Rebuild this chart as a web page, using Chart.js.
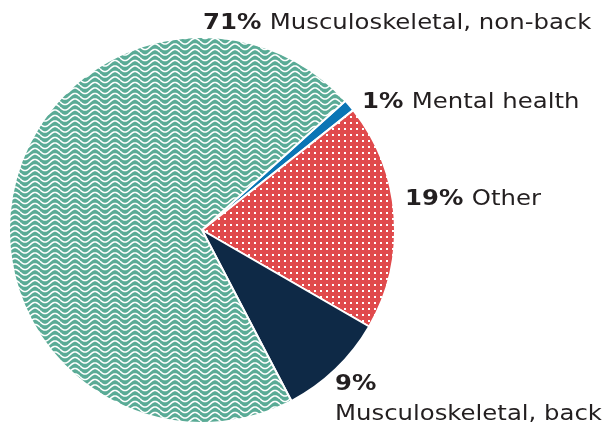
<!DOCTYPE html>
<html lang="en">
<head>
    <meta charset="UTF-8">
    <title>Injury types</title>
    <script src="https://cdn.jsdelivr.net/npm/chart.js"></script>
    <style>
        body {
            margin: 0;
            background: #fff;
        }
        .wrap {
            position: relative;
            width: 614px;
            height: 425px;
        }
    </style>
</head>
<body>
    <div class="wrap">
        <canvas id="pieChart" width="614" height="425"></canvas>
    </div>

    <script>
        // data
        const categories = ['Mental health', 'Other', 'Musculoskeletal, back', 'Musculoskeletal, non-back'];
        const shares = [1, 19, 9, 71];
        const pctLabels = ['1%', '19%', '9%', '71%'];

        // label placement: [x, baseline y] and whether the name goes on its own line
        const labelSpots = [
            { x: 362, y: 108, wrap: false },
            { x: 405, y: 205, wrap: false },
            { x: 335, y: 390, wrap: true },
            { x: 203, y: 29, wrap: false }
        ];
        const stretch = 1.16; // the original typeface is wider than DejaVu

        function wavePattern() {
            const c = document.createElement('canvas');
            c.width = 20;
            c.height = 11;
            const g = c.getContext('2d');
            g.fillStyle = '#5aab96';
            g.fillRect(0, 0, c.width, c.height);
            g.strokeStyle = '#ffffff';
            g.lineWidth = 1.6;
            for (let off = -11; off <= 22; off += 5.5) {
                g.beginPath();
                for (let x = 0; x <= c.width; x += 0.5) {
                    const y = off + 2.75 + 2.8 * Math.sin(x / c.width * Math.PI * 2);
                    if (x === 0) g.moveTo(x, y); else g.lineTo(x, y);
                }
                g.stroke();
            }
            return g.createPattern(c, 'repeat');
        }

        function dotPattern() {
            const c = document.createElement('canvas');
            c.width = 6;
            c.height = 6;
            const g = c.getContext('2d');
            g.fillStyle = '#e04a4c';
            g.fillRect(0, 0, 6, 6);
            g.fillStyle = '#ffffff';
            g.fillRect(2, 2, 2, 2);
            return g.createPattern(c, 'repeat');
        }

        const sliceLabels = {
            id: 'sliceLabels',
            afterDraw(chart) {
                const ctx = chart.ctx;
                labelSpots.forEach((spot, i) => {
                    ctx.save();
                    ctx.translate(spot.x, spot.y);
                    ctx.scale(stretch, 1);
                    ctx.fillStyle = '#231f20';
                    ctx.textBaseline = 'alphabetic';
                    ctx.textAlign = 'left';
                    ctx.font = 'bold 21px "DejaVu Sans", sans-serif';
                    ctx.fillText(pctLabels[i], 0, 0);
                    const w = ctx.measureText(pctLabels[i] + ' ').width;
                    ctx.font = '21px "DejaVu Sans", sans-serif';
                    if (spot.wrap) {
                        ctx.fillText(categories[i], 0, 30);
                    } else {
                        ctx.fillText(categories[i], w, 0);
                    }
                    ctx.restore();
                });
            }
        };

        new Chart(document.getElementById('pieChart'), {
            type: 'pie',
            data: {
                labels: categories,
                datasets: [{
                    data: shares,
                    backgroundColor: ['#0a75b5', dotPattern(), '#0e2946', wavePattern()],
                    borderColor: '#ffffff',
                    borderWidth: 2
                }]
            },
            options: {
                responsive: false,
                animation: false,
                rotation: 48,
                layout: {
                    padding: { left: 8, right: 218, top: 36, bottom: 1 }
                },
                plugins: {
                    legend: { display: false },
                    tooltip: { enabled: false }
                }
            },
            plugins: [sliceLabels]
        });
    </script>
</body>
</html>
